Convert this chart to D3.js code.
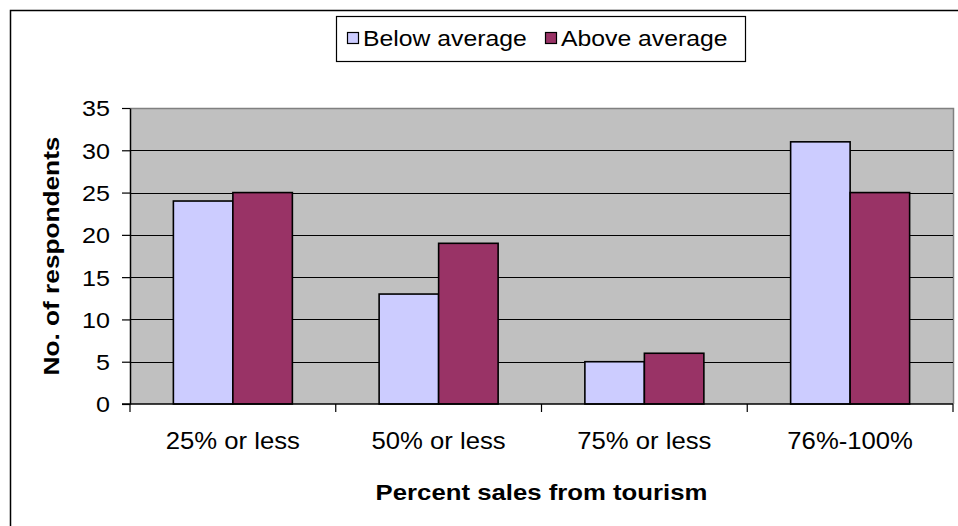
<!DOCTYPE html>
<html>
<head>
<meta charset="utf-8">
<script src="https://cdn.jsdelivr.net/npm/d3@7/dist/d3.min.js"></script>
<style>
  html, body { margin: 0; padding: 0; background: #fff; }
  svg { display: block; }
  text { font-family: Arial, "Liberation Sans", sans-serif; fill: #000; }
</style>
</head>
<body>
<svg id="chart" width="958" height="526"></svg>
<script>
// Survey results: respondents by share of sales coming from tourism
const categories = ["25% or less", "50% or less", "75% or less", "76%-100%"];
const seriesNames = ["Below average", "Above average"];
const belowAverage = [24, 13, 5, 31];
const aboveAverage = [25, 19, 6, 25];
const yTicks = [0, 5, 10, 15, 20, 25, 30, 35];
const colors = ["#CCCCFF", "#993366"];

const svg = d3.select("#chart");
const W = 958, H = 526;
const plot = { left: 130, right: 953, top: 108, bottom: 404 };

svg.append("rect").attr("width", W).attr("height", H).attr("fill", "#fff");

// outer chart frame (runs off the right and bottom edges)
svg.append("rect")
  .attr("x", 10.5).attr("y", 10.5)
  .attr("width", W + 10).attr("height", H + 10)
  .attr("fill", "none").attr("stroke", "#000").attr("stroke-width", 1.5);

const x = d3.scaleBand().domain(categories).range([plot.left, plot.right]).paddingInner(0).paddingOuter(0);
const xs = d3.scaleBand().domain(seriesNames).range([0, x.bandwidth()]).paddingInner(0).paddingOuter(0.729);
const y = d3.scaleLinear().domain([0, 35]).range([plot.bottom, plot.top]);

// plot background
svg.append("rect")
  .attr("x", plot.left).attr("y", plot.top)
  .attr("width", plot.right - plot.left).attr("height", plot.bottom - plot.top)
  .attr("fill", "#C0C0C0");
svg.append("path")
  .attr("d", `M${plot.left},${plot.top + 0.5}H${plot.right + 0.5}V${plot.bottom}`)
  .attr("fill", "none").attr("stroke", "#808080").attr("stroke-width", 1.5);

// gridlines
svg.append("g")
  .selectAll("line")
  .data(yTicks.filter(d => d > 0 && d < 35))
  .join("line")
  .attr("x1", plot.left).attr("x2", plot.right)
  .attr("y1", d => Math.round(y(d)) + 0.5).attr("y2", d => Math.round(y(d)) + 0.5)
  .attr("stroke", "#000").attr("stroke-width", 1.2);

// bars
const rows = categories.map((c, i) => ({ cat: c, values: [belowAverage[i], aboveAverage[i]] }));
const groups = svg.append("g").selectAll("g")
  .data(rows).join("g")
  .attr("transform", d => `translate(${x(d.cat)},0)`);
groups.selectAll("rect")
  .data(d => d.values.map((v, j) => ({ key: seriesNames[j], v, j })))
  .join("rect")
  .attr("x", d => xs(d.key))
  .attr("y", d => y(d.v))
  .attr("width", xs.bandwidth())
  .attr("height", d => y(0) - y(d.v))
  .attr("fill", d => colors[d.j])
  .attr("stroke", "#000").attr("stroke-width", 1.6);

// y axis
const yAxis = d3.axisLeft(y).tickValues(yTicks).tickSize(8).tickPadding(12).tickSizeOuter(0);
const gy = svg.append("g").attr("transform", `translate(${plot.left},0)`).call(yAxis);
gy.select(".domain").attr("stroke", "#000").attr("stroke-width", 1.5);
gy.selectAll(".tick line").attr("stroke", "#000").attr("stroke-width", 1.2);
gy.selectAll(".tick text")
  .attr("font-size", 22)
  .attr("x", 0)
  .attr("dy", "0.36em")
  .attr("text-anchor", "end")
  .attr("transform", "translate(-20,0) scale(1.14,1)");

// x axis: ticks sit on the category boundaries, labels centred beneath each group
const boundaries = categories.map(c => x(c)).concat([plot.right]);
const gx = svg.append("g");
gx.append("line")
  .attr("x1", plot.left - 8).attr("x2", plot.right)
  .attr("y1", plot.bottom).attr("y2", plot.bottom)
  .attr("stroke", "#000").attr("stroke-width", 1.5);
gx.selectAll("line.tick")
  .data(boundaries).join("line").attr("class", "tick")
  .attr("x1", d => d).attr("x2", d => d)
  .attr("y1", plot.bottom).attr("y2", plot.bottom + 8)
  .attr("stroke", "#000").attr("stroke-width", 1.2);
gx.selectAll("text")
  .data(categories).join("text")
  .attr("transform", d => `translate(${x(d) + x.bandwidth() / 2},449) scale(1.07,1)`)
  .attr("text-anchor", "middle")
  .attr("font-size", 24)
  .text(d => d);

// axis titles
svg.append("text")
  .attr("transform", `translate(${(plot.left + plot.right) / 2},500) scale(1.17,1)`)
  .attr("text-anchor", "middle")
  .attr("font-size", 22).attr("font-weight", "bold")
  .text("Percent sales from tourism");
svg.append("text")
  .attr("transform", `translate(59,${(plot.top + plot.bottom) / 2}) rotate(-90) scale(1.22,1)`)
  .attr("text-anchor", "middle")
  .attr("font-size", 21.5).attr("font-weight", "bold")
  .text("No. of respondents");

// legend
const legend = svg.append("g");
legend.append("rect")
  .attr("x", 336.5).attr("y", 16.5).attr("width", 409).attr("height", 45)
  .attr("fill", "#fff").attr("stroke", "#000").attr("stroke-width", 1.2);
const legendX = [347, 545];
const items = legend.selectAll("g.item")
  .data(seriesNames).join("g").attr("class", "item")
  .attr("transform", (d, i) => `translate(${legendX[i]},0)`);
items.append("rect")
  .attr("x", 0.5).attr("y", 32.5).attr("width", 11).attr("height", 11)
  .attr("fill", (d, i) => colors[i]).attr("stroke", "#000").attr("stroke-width", 1.2);
items.append("text")
  .attr("transform", "translate(16,46) scale(1.1,1)")
  .attr("font-size", 22.5)
  .text(d => d);
</script>
</body>
</html>
